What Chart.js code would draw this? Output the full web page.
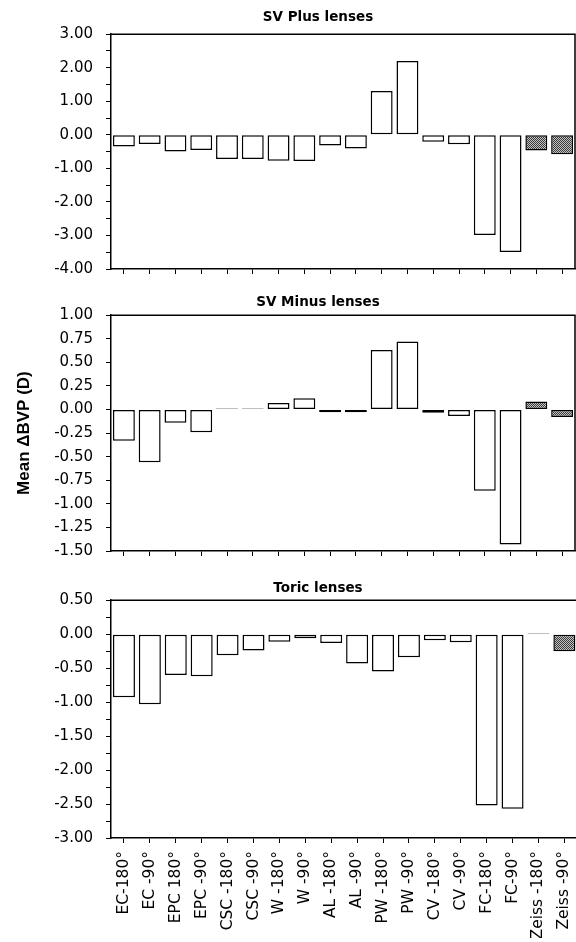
<!DOCTYPE html>
<html>
<head>
<meta charset="utf-8">
<script src="https://cdn.jsdelivr.net/npm/chart.js@4.4.1/dist/chart.umd.min.js"></script>
<style>
  body { margin: 0; background: #fff; overflow: hidden; }
  .panel { position: absolute; left: 0; }
</style>
</head>
<body>
<div class="panel" style="top:0;width:576px;height:291px"><canvas id="plusChart"></canvas></div>
<div class="panel" style="top:285px;width:576px;height:288px"><canvas id="minusChart"></canvas></div>
<div class="panel" style="top:568px;width:591px;height:374px"><canvas id="toricChart"></canvas></div>
<script>
// lens designs / meridians
const categories = ['EC-180°', 'EC -90°', 'EPC 180°', 'EPC -90°', 'CSC -180°', 'CSC -90°',
  'W -180°', 'W -90°', 'AL -180°', 'AL -90°', 'PW -180°', 'PW -90°',
  'CV -180°', 'CV -90°', 'FC-180°', 'FC-90°', 'Zeiss -180°', 'Zeiss -90°'];

// mean change in back vertex power (D)
const plusValues  = [-0.35, -0.27, -0.50, -0.45, -0.72, -0.72, -0.77, -0.78, -0.32, -0.41,
  1.31, 2.20, -0.21, -0.28, -2.99, -3.49, -0.47, -0.58];
const minusValues = [-0.33, -0.56, -0.14, -0.24, 0.01, 0.01, 0.07, 0.12, -0.03, -0.03,
  0.63, 0.72, -0.035, -0.07, -0.86, -1.43, 0.085, -0.08];
const toricValues = [-0.93, -1.03, -0.60, -0.62, -0.31, -0.24, -0.11, -0.06, -0.13, -0.43,
  -0.55, -0.34, -0.09, -0.12, -2.52, -2.57, 0.015, -0.25];

// y ranges: [min, max, minor step, labelled step]
const plusAxis  = [-4, 3, 0.5, 1];
const minusAxis = [-1.5, 1, 0.25, 0.25];
const toricAxis = [-3, 0.5, 0.25, 0.5];

function stipple() {
  const c = document.createElement('canvas');
  c.width = 2; c.height = 2;
  const g = c.getContext('2d');
  g.fillStyle = '#c4c4c4';
  g.fillRect(0, 0, 2, 2);
  g.fillStyle = '#3a3a3a';
  g.fillRect(0, 0, 1, 1);
  g.fillRect(1, 1, 1, 1);
  return g.createPattern(c, 'repeat');
}
const zeissFill = stipple();

const framePlugin = {
  id: 'frame',
  afterDatasetsDraw(chart) {
    const { ctx, chartArea: a } = chart;
    ctx.save();
    ctx.strokeStyle = '#000';
    ctx.lineWidth = 1.5;
    ctx.beginPath();
    ctx.moveTo(a.left, a.top);
    ctx.lineTo(a.right, a.top);
    ctx.lineTo(a.right, a.bottom);
    ctx.stroke();
    ctx.restore();
  }
};

// canvasWidth - padRight fixes where the full-width title is centred (~318px)
function makeLensChart(id, values, axis, titleText, titlePad, showLabels, yTitle, padRight, spacerWidth) {
  const ctx = document.getElementById(id);
  return new Chart(ctx, {
    type: 'bar',
    data: {
      labels: categories,
      datasets: [{
        data: values,
        backgroundColor: categories.map(c => c.startsWith('Zeiss') ? zeissFill : '#fff'),
        borderColor: '#000',
        borderWidth: 1.5,
        borderSkipped: false,
        barPercentage: 0.85,
        categoryPercentage: 1.0
      }]
    },
    plugins: [framePlugin],
    options: {
      responsive: true,
      maintainAspectRatio: false,
      animation: false,
      layout: { padding: { left: 0, right: padRight, top: 0, bottom: 4 } },
      plugins: {
        legend: { display: false },
        tooltip: { enabled: false },
        title: {
          display: true,
          text: titleText,
          color: '#000',
          font: { family: 'DejaVu Sans', size: 13.5, weight: 'bold' },
          padding: titlePad
        }
      },
      scales: {
        x: {
          grid: { display: true, drawOnChartArea: false, drawTicks: true, tickLength: 5, offset: false, color: '#000', lineWidth: 1 },
          border: { display: true, color: '#000', width: 1.5 },
          ticks: {
            display: showLabels,
            autoSkip: false,
            maxRotation: 90,
            minRotation: 90,
            padding: 8,
            color: '#000',
            font: { family: 'DejaVu Sans', size: 15.5 }
          },
          afterFit: s => { s.height = showLabels ? 100 : 5; }
        },
        y: {
          min: axis[0],
          max: axis[1],
          grid: { display: true, drawOnChartArea: false, drawTicks: true, tickLength: 5, color: '#000', lineWidth: 1 },
          border: { display: true, color: '#000', width: 1.5 },
          ticks: {
            stepSize: axis[2],
            autoSkip: false,
            padding: 13,
            color: '#000',
            font: { family: 'DejaVu Sans', size: 15 },
            callback: v => {
              const r = Math.round(v / axis[3]) * axis[3];
              return Math.abs(r - v) < 1e-6 ? v.toFixed(2) : '';
            }
          },
          title: {
            display: !!yTitle,
            text: yTitle || '',
            color: '#000',
            font: { family: 'Liberation Sans', size: 17, weight: 'bold' },
            padding: { top: 14, bottom: 0 }
          },
          afterFit: s => { s.width = 111; }
        },
        // empty spacer on the right, takes back the negative padding
        spacer: {
          position: 'right',
          min: 0,
          max: 1,
          grid: { display: false },
          border: { display: false },
          ticks: { display: false },
          afterFit: s => { s.width = spacerWidth; }
        }
      }
    }
  });
}

makeLensChart('plusChart', plusValues, plusAxis, 'SV Plus lenses', { top: 9, bottom: 9 }, false, null, -60, 61);
makeLensChart('minusChart', minusValues, minusAxis, 'SV Minus lenses', { top: 9, bottom: 5 }, false, 'Mean ΔBVP (D)', -60, 61);
makeLensChart('toricChart', toricValues, toricAxis, 'Toric lenses', { top: 12, bottom: 4 }, true, null, -45, 46);
</script>
</body>
</html>
